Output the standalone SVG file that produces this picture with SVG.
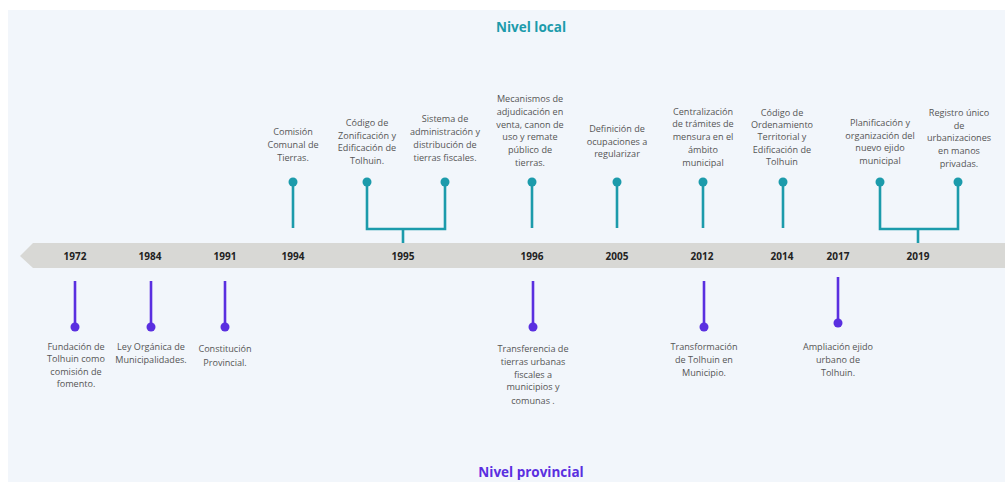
<svg xmlns="http://www.w3.org/2000/svg" width="1005" height="482" viewBox="0 0 1005 482">
<style>
.t{font-family:"Open Sans","Liberation Sans",sans-serif;font-size:9.1px;fill:#555;text-anchor:middle}
.y{font-family:"Open Sans","Liberation Sans",sans-serif;font-size:10px;font-weight:bold;fill:#222;text-anchor:middle}
.h{font-family:"Open Sans","Liberation Sans",sans-serif;font-size:13.5px;font-weight:bold;text-anchor:middle}
.lt{stroke:#1c9bab;stroke-width:2.6;fill:none}
.dt{fill:#1c9bab}
.lp{stroke:#5a2fe0;stroke-width:2.6;fill:none}
.dp{fill:#5a2fe0}
</style>
<rect x="0" y="0" width="1005" height="482" fill="#ffffff"/>
<rect x="8" y="10" width="997" height="472" fill="#f2f6fb"/>
<g id="titles">
<text class="h" x="531" y="32" fill="#1c9bab">Nivel local</text>
<text class="h" x="531" y="477" fill="#5a2fe0">Nivel provincial</text>
</g>
<g id="band">
<polygon points="20,256 33,243 1005,243 1005,268 33,268" fill="#d8d8d5"/>
<text class="y" x="75" y="259.5">1972</text>
<text class="y" x="150" y="259.5">1984</text>
<text class="y" x="225" y="259.5">1991</text>
<text class="y" x="293" y="259.5">1994</text>
<text class="y" x="403" y="259.5">1995</text>
<text class="y" x="532" y="259.5">1996</text>
<text class="y" x="617" y="259.5">2005</text>
<text class="y" x="702" y="259.5">2012</text>
<text class="y" x="782" y="259.5">2014</text>
<text class="y" x="838" y="259.5">2017</text>
<text class="y" x="918" y="259.5">2019</text>
</g>
<g id="connectors">
<path class="lt" d="M293,182V228"/>
<path class="lt" d="M367,182V229H445V182M403,229V243"/>
<path class="lt" d="M532,182V228"/>
<path class="lt" d="M617,182V228"/>
<path class="lt" d="M703,182V228"/>
<path class="lt" d="M783,182V228"/>
<path class="lt" d="M880,182V229H958V182M918,229V243"/>
<path class="lp" d="M75,281V327"/>
<path class="lp" d="M151,281V327"/>
<path class="lp" d="M225,281V327"/>
<path class="lp" d="M533,281V327"/>
<path class="lp" d="M704,281V327"/>
<path class="lp" d="M838,277V323"/>
</g>
<g id="n1994">
<circle class="dt" cx="293" cy="182" r="4.5"/>
<text class="t" x="293"><tspan x="293" y="135">Comisión</tspan><tspan x="293" y="148">Comunal de</tspan><tspan x="293" y="161">Tierras.</tspan></text>
</g>
<g id="n1995a">
<circle class="dt" cx="367" cy="182" r="4.5"/>
<text class="t"><tspan x="367" y="126">Código de</tspan><tspan x="367" y="139">Zonificación y</tspan><tspan x="367" y="151">Edificación de</tspan><tspan x="367" y="164">Tolhuin.</tspan></text>
</g>
<g id="n1995b">
<circle class="dt" cx="445" cy="182" r="4.5"/>
<text class="t"><tspan x="445" y="122">Sistema de</tspan><tspan x="445" y="135">administración y</tspan><tspan x="445" y="148">distribución de</tspan><tspan x="445" y="161">tierras fiscales.</tspan></text>
</g>
<g id="n1996a">
<circle class="dt" cx="532" cy="182" r="4.5"/>
<text class="t"><tspan x="530" y="102">Mecanismos de</tspan><tspan x="530" y="115">adjudicación en</tspan><tspan x="530" y="128">venta, canon de</tspan><tspan x="530" y="140">uso y remate</tspan><tspan x="530" y="153">público de</tspan><tspan x="530" y="166">tierras.</tspan></text>
</g>
<g id="n2005">
<circle class="dt" cx="617" cy="182" r="4.5"/>
<text class="t"><tspan x="617" y="132">Definición de</tspan><tspan x="617" y="145">ocupaciones a</tspan><tspan x="617" y="157">regularizar</tspan></text>
</g>
<g id="n2012a">
<circle class="dt" cx="703" cy="182" r="4.5"/>
<text class="t"><tspan x="703" y="115">Centralización</tspan><tspan x="703" y="127">de trámites de</tspan><tspan x="703" y="140">mensura en el</tspan><tspan x="703" y="153">ámbito</tspan><tspan x="703" y="166">municipal</tspan></text>
</g>
<g id="n2014">
<circle class="dt" cx="783" cy="182" r="4.5"/>
<text class="t"><tspan x="782" y="116">Código de</tspan><tspan x="782" y="128">Ordenamiento</tspan><tspan x="782" y="140">Territorial y</tspan><tspan x="782" y="153">Edificación de</tspan><tspan x="782" y="165">Tolhuin</tspan></text>
</g>
<g id="n2019a">
<circle class="dt" cx="880" cy="182" r="4.5"/>
<text class="t"><tspan x="880" y="126">Planificación y</tspan><tspan x="880" y="139">organización del</tspan><tspan x="880" y="151">nuevo ejido</tspan><tspan x="880" y="164">municipal</tspan></text>
</g>
<g id="n2019b">
<circle class="dt" cx="958" cy="182" r="4.5"/>
<text class="t"><tspan x="959" y="116">Registro único</tspan><tspan x="959" y="129">de</tspan><tspan x="959" y="141">urbanizaciones</tspan><tspan x="959" y="154">en manos</tspan><tspan x="959" y="167">privadas.</tspan></text>
</g>
<g id="n1972">
<circle class="dp" cx="75" cy="327" r="4.5"/>
<text class="t"><tspan x="76" y="350">Fundación de</tspan><tspan x="76" y="362">Tolhuin como</tspan><tspan x="76" y="375">comisión de</tspan><tspan x="76" y="387">fomento.</tspan></text>
</g>
<g id="n1984">
<circle class="dp" cx="151" cy="327" r="4.5"/>
<text class="t"><tspan x="151" y="350">Ley Orgánica de</tspan><tspan x="151" y="363">Municipalidades.</tspan></text>
</g>
<g id="n1991">
<circle class="dp" cx="225" cy="327" r="4.5"/>
<text class="t"><tspan x="225" y="352">Constitución</tspan><tspan x="225" y="366">Provincial.</tspan></text>
</g>
<g id="n1996b">
<circle class="dp" cx="533" cy="327" r="4.5"/>
<text class="t"><tspan x="533" y="352">Transferencia de</tspan><tspan x="533" y="365">tierras urbanas</tspan><tspan x="533" y="378">fiscales a</tspan><tspan x="533" y="390">municipios y</tspan><tspan x="533" y="404">comunas .</tspan></text>
</g>
<g id="n2012b">
<circle class="dp" cx="704" cy="327" r="4.5"/>
<text class="t"><tspan x="704" y="350">Transformación</tspan><tspan x="704" y="363">de Tolhuin en</tspan><tspan x="704" y="376">Municipio.</tspan></text>
</g>
<g id="n2017">
<circle class="dp" cx="838" cy="323" r="4.5"/>
<text class="t"><tspan x="838" y="350">Ampliación ejido</tspan><tspan x="838" y="363">urbano de</tspan><tspan x="838" y="376">Tolhuin.</tspan></text>
</g>
</svg>
